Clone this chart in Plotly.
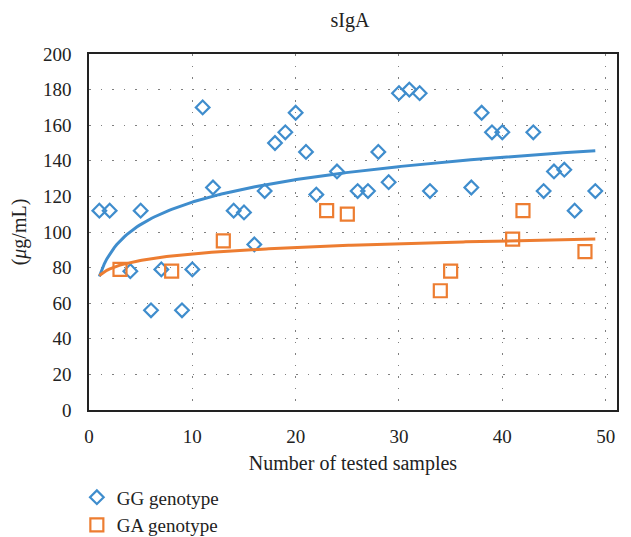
import numpy as np
import plotly.graph_objects as go

# ---- data ----
gg_x = [1, 2, 4, 5, 6, 7, 9, 10, 11, 12, 14, 15, 16, 17, 18, 19, 20, 21, 22, 24,
        26, 27, 28, 29, 30, 31, 32, 33, 37, 38, 39, 40, 43, 44, 45, 46, 47, 49]
gg_y = [112, 112, 78, 112, 56, 79, 56, 79, 170, 125, 112, 111, 93, 123, 150, 156, 167, 145, 121, 134,
        123, 123, 145, 128, 178, 180, 178, 123, 125, 167, 156, 156, 156, 123, 134, 135, 112, 123]
ga_x = [3, 8, 13, 23, 25, 34, 35, 41, 42, 48]
ga_y = [79, 78, 95, 112, 110, 67, 78, 96, 112, 89]

x_ticks = [0, 10, 20, 30, 40, 50]
y_ticks = [0, 20, 40, 60, 80, 100, 120, 140, 160, 180, 200]

BLUE = "#3F8DCD"
ORANGE = "#ED7D31"
FONT = "Liberation Serif"

# logarithmic trendlines (least squares on ln x), drawn across the sample range
def log_fit(xs, ys):
    b, a = np.polyfit(np.log(xs), ys, 1)
    return a, b

t_x = np.linspace(1, 49, 200)
a1, b1 = log_fit(gg_x, gg_y)
a2, b2 = log_fit(ga_x, ga_y)

fig = go.Figure()
fig.add_trace(go.Scatter(x=gg_x, y=gg_y, mode="markers", name="GG genotype",
                         marker=dict(symbol="diamond-open", size=10.5, color=BLUE,
                                     line=dict(width=2.2, color=BLUE))))
fig.add_trace(go.Scatter(x=ga_x, y=ga_y, mode="markers", name="GA genotype",
                         marker=dict(symbol="square-open", size=13, color=ORANGE,
                                     line=dict(width=2.2, color=ORANGE))))
fig.add_trace(go.Scatter(x=t_x, y=a1 + b1 * np.log(t_x), mode="lines", showlegend=False,
                         line=dict(color=BLUE, width=3), hoverinfo="skip"))
fig.add_trace(go.Scatter(x=t_x, y=a2 + b2 * np.log(t_x), mode="lines", showlegend=False,
                         line=dict(color=ORANGE, width=3), hoverinfo="skip"))

grid = dict(showgrid=True, gridcolor="#7f7f7f", gridwidth=1, griddash="1.5px,10px",
            zeroline=False, showline=True, mirror=True, linecolor="#222222", linewidth=1.5,
            ticks="", tickfont=dict(family=FONT, size=19, color="#222"))

fig.update_xaxes(range=[0, 51.1], tickvals=x_ticks, ticklabelstandoff=8,
                 title=dict(text="Number of tested samples", font=dict(family=FONT, size=20, color="#222"),
                            standoff=10), **grid)
fig.update_yaxes(range=[0, 200], tickvals=y_ticks, ticklabelstandoff=12,
                 title=dict(text="(<i>μ</i>g/mL)", font=dict(family=FONT, size=20, color="#222"),
                            standoff=16), **grid)

fig.update_layout(
    width=623, height=529,
    margin=dict(l=81, r=14, t=46, b=127, autoexpand=False),
    paper_bgcolor="white", plot_bgcolor="white",
    title=dict(text="sIgA", x=0.549, xanchor="center", y=0.977, yanchor="middle",
               font=dict(family=FONT, size=20, color="#222")),
    legend=dict(x=-0.023, y=-0.192, xanchor="left", yanchor="top", orientation="v",
                font=dict(family=FONT, size=19, color="#222"), bgcolor="rgba(0,0,0,0)",
                itemwidth=30, tracegroupgap=0),
    font=dict(family=FONT),
)

fig.write_html("out.html")
